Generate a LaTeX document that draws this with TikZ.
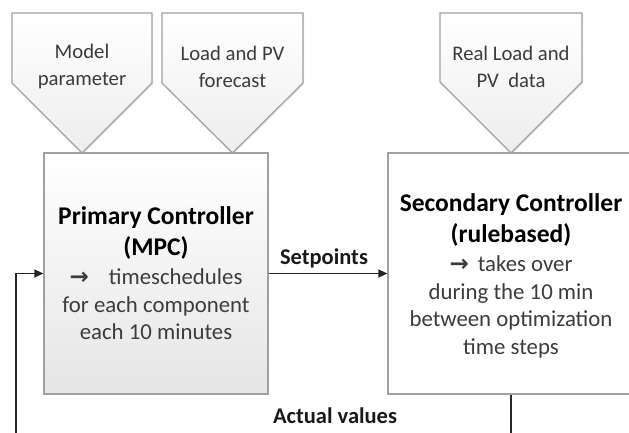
\documentclass[tikz,border=0pt]{standalone}
\usepackage{fontspec}
\setmainfont{Carlito}
\newfontfamily\symfont{DejaVu Sans}
\usetikzlibrary{arrows.meta,shadows}
\definecolor{edgegray}{HTML}{A0A0A0}
\definecolor{txtgray}{HTML}{3C3C3C}
\newcommand{\bigb}[1]{{\bfseries\color{black}\fontsize{25.5}{28}\selectfont #1}}
\newcommand{\rarrow}{{\symfont\bfseries\fontsize{23}{28}\selectfont →}}
\begin{document}
\begin{tikzpicture}[x=1pt,y=-1pt,
  pentshape/.style={draw=edgegray, line width=1.2pt, top color=white, bottom color=black!7,
    drop shadow={opacity=0.18, shadow xshift=1.2pt, shadow yshift=-1.2pt}},
  penttext/.style={align=center, text=txtgray, font=\fontsize{20.7}{27}\selectfont},
  ctrlbox/.style={draw=edgegray, line width=1.2pt, minimum width=224pt, minimum height=241pt,
    align=center, inner sep=0pt, text=txtgray, font=\fontsize{22.8}{27.5}\selectfont,
    drop shadow={opacity=0.18, shadow xshift=1.2pt, shadow yshift=-1.2pt}},
  boxtext/.style={align=center, inner sep=0pt, text=txtgray, font=\fontsize{22.8}{27.5}\selectfont},
  lbl/.style={font=\bfseries\fontsize{22.5}{25}\selectfont, text=black!90},
  conn/.style={draw=black!85, line width=1.4pt},
  arr/.style={conn, -{Triangle[length=9pt,width=8pt]}}
]
\useasboundingbox (0,0) rectangle (629,432);
\clip (0,0) rectangle (629,432);

% input pentagons
\path[pentshape] (12,13) -- (152,13) -- (152,83) -- (82,153) -- (12,83) -- cycle;
\path[pentshape] (162,13) -- (303,13) -- (303,83) -- (232.5,153) -- (162,83) -- cycle;
\path[pentshape] (440,13) -- (582,13) -- (582,82) -- (511,153) -- (440,82) -- cycle;
\node[penttext] (p1) at (82,66.5) {Model\\parameter};
\node[penttext] (p2) at (232.5,66.5) {Load and PV\\forecast};
\node[penttext] (p3) at (511,66.5) {Real Load and\\PV\ \ data};

% controller boxes
\node[ctrlbox, top color=white, bottom color=black!10] (prim) at (156,273.5)
  {\bigb{Primary Controller}\\[3.5pt]
   \bigb{(MPC)}\\[1.5pt]
   \rarrow\hspace{20pt}timeschedules\\
   for each component\\
   each 10 minutes};
\node[ctrlbox, minimum width=246pt, fill=white] (sec) at (511,273.5) {};
\node[boxtext] (sectext) at (511,275.5)
  {\bigb{Secondary Controller}\\[3.5pt]
   \bigb{(rulebased)}\\[2pt]
   \rarrow\hspace{9pt}takes over\\
   during the 10 min\\
   between optimization\\
   time steps};

% connectors
\draw[arr] (prim.east) -- (sec.west);
\node[lbl] (setp) at (324,258) {Setpoints};
\coordinate (fbr) at (511,450);
\coordinate (fbl) at (16,450);
\draw[arr] (sec.south) -- (fbr) -- (fbl) |- (prim.west);
\node[lbl] (actv) at (335,416) {Actual values};
\end{tikzpicture}
\end{document}
